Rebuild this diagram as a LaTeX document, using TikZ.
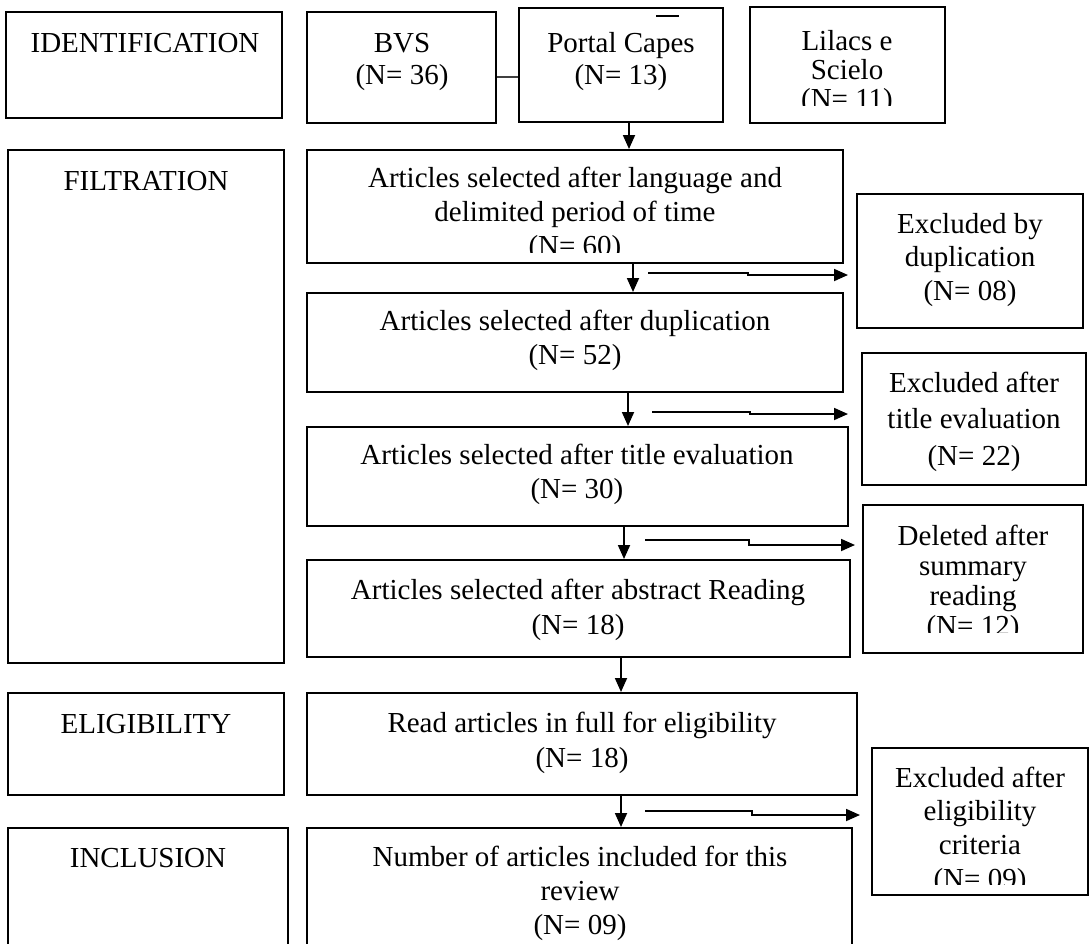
\documentclass[tikz,border=0pt]{standalone}
\usepackage{fontspec}
\setmainfont{Liberation Serif}
\usetikzlibrary{arrows.meta}
\newcommand{\blk}[2]{{\fontsize{29}{#1}\selectfont\begin{tabular}[t]{@{}c@{}}#2\end{tabular}}}
\newcommand{\bx}[5]{\node[boxs, minimum width={#4-#2}, minimum height={#5-#3}] (#1) at ({(#2+#4)/2},{(#3+#5)/2}) {};}
\begin{document}
\begin{tikzpicture}[x=1pt,y=-1pt,
  boxs/.style={draw, line width=2pt, inner sep=0pt, rectangle},
  txt/.style={inner sep=0pt, anchor=base},
  arr/.style={line width=1.8pt, -{Triangle[length=14pt,width=12pt]}},
  thinln/.style={line width=1.3pt, draw=black!75}]
\useasboundingbox[fill=white] (0,0) rectangle (1089,943);
% boxes
\bx{ident}{6}{12}{282}{118}
\bx{bvs}{307}{12}{496}{123}
\bx{portal}{519}{8}{723}{122}
\bx{lilacs}{750}{7}{945}{123}
\bx{filt}{8}{150}{284}{663}
\bx{elig}{8}{693}{284}{795}
\bx{incl}{8}{828}{288}{960}
\bx{a}{307}{150}{843}{263}
\bx{b}{307}{293}{843}{392}
\bx{c}{307}{427}{848}{526}
\bx{d}{307}{560}{850}{657}
\bx{e}{307}{693}{857}{795}
\bx{f}{307}{828}{852}{960}
\bx{dup}{857}{194}{1083}{328}
\bx{tit}{862}{353}{1086}{485}
\bx{del}{863}{505}{1083}{653}
\bx{elx}{872}{748}{1088}{895}
% texts
\node[txt] (tident) at (145,52) {\blk{32}{IDENTIFICATION}};
\node[txt] (tfilt) at (146,190) {\blk{32}{FILTRATION}};
\node[txt] (telig) at (146,733) {\blk{32}{ELIGIBILITY}};
\node[txt] (tincl) at (148,867) {\blk{32}{INCLUSION}};
\node[txt] (tbvs) at (402,52) {\blk{32}{BVS\\(N= 36)}};
\node[txt] (tportal) at (621,52) {\blk{32}{Portal Capes\\(N= 13)}};
\begin{scope}
\clip (750,7) rectangle (945,105);
\node[txt] (tlilacs) at (847,50) {\blk{29}{Lilacs e\\Scielo\\(N= 11)}};
\end{scope}
\begin{scope}
\clip (307,150) rectangle (843,252);
\node[txt] (ta) at (575,187) {\blk{34}{Articles selected after language and\\delimited period of time\\(N= 60)}};
\end{scope}
\node[txt] (tb) at (575,330) {\blk{34}{Articles selected after duplication\\(N= 52)}};
\node[txt] (tc) at (577,464) {\blk{34}{Articles selected after title evaluation\\(N= 30)}};
\node[txt] (td) at (578,599) {\blk{35}{Articles selected after abstract Reading\\(N= 18)}};
\node[txt] (te) at (582,732) {\blk{35}{Read articles in full for eligibility\\(N= 18)}};
\begin{scope}
\clip (307,828) rectangle (852,940);
\node[txt] (tf) at (580,866) {\blk{34}{Number of articles included for this\\review\\(N= 09)}};
\end{scope}
\node[txt] (tdup) at (970,233) {\blk{33.5}{Excluded by\\duplication\\(N= 08)}};
\node[txt] (ttit) at (974,392) {\blk{36.5}{Excluded after\\title evaluation\\(N= 22)}};
\begin{scope}
\clip (863,505) rectangle (1083,632);
\node[txt] (tdel) at (973,545) {\blk{30}{Deleted after\\summary\\reading\\(N= 12)}};
\end{scope}
\begin{scope}
\clip (872,748) rectangle (1088,884);
\node[txt] (telx) at (980,787) {\blk{33.7}{Excluded after\\eligibility\\criteria\\(N= 09)}};
\end{scope}
% stray mark and connector in top row
\coordinate (ol1) at (656,16);
\coordinate (ol2) at (679,16);
\draw[line width=1.5pt] (ol1) -- (ol2);
\draw[thinln] ([yshift=-9.5pt]bvs.east) -- ([yshift=-9.5pt]bvs.east -| portal.west);
% vertical arrows
\draw[arr] ([xshift=8pt]portal.south) -- ([xshift=8pt]portal.south |- a.north);
\draw[arr] ([xshift=58pt]a.south) -- ([xshift=58pt]a.south |- b.north);
\draw[arr] ([xshift=53pt]b.south) -- ([xshift=53pt]b.south |- c.north);
\draw[arr] ([xshift=46.5pt]c.south) -- ([xshift=46.5pt]c.south |- d.north);
\draw[arr] ([xshift=42.5pt]d.south) -- ([xshift=42.5pt]d.south |- e.north);
\draw[arr] ([xshift=39pt]e.south) -- ([xshift=39pt]e.south |- f.north);
% side arrows
\coordinate (s1) at (648,273); \coordinate (t1) at (848,275);
\coordinate (s2) at (652,412); \coordinate (t2) at (848,414);
\coordinate (s3) at (645,540); \coordinate (t3) at (855,545);
\coordinate (s4) at (645,811); \coordinate (t4) at (860,815);
\draw[arr] (s1) -- (748,273) -- (748,275) -- (t1);
\draw[arr] (s2) -- (750,412) -- (750,414) -- (t2);
\draw[arr] (s3) -- (749,540) -- (749,545) -- (t3);
\draw[arr] (s4) -- (752,811) -- (752,815) -- (t4);
\end{tikzpicture}
\end{document}
